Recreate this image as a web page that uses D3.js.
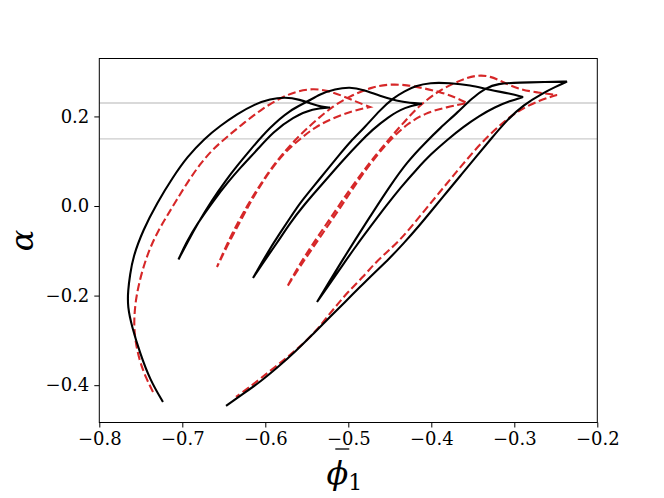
<!DOCTYPE html>
<html>
<head>
<meta charset="utf-8">
<script src="https://cdn.jsdelivr.net/npm/d3@7"></script>
<style>
  html, body { margin: 0; padding: 0; background: #fff; }
  svg { display: block; }
</style>
</head>
<body>
<svg id="chart" width="664" height="498"></svg>
<script>
// ---------------- data ----------------
const xTicks = [-0.8, -0.7, -0.6, -0.5, -0.4, -0.3, -0.2];
const yTicks = [-0.4, -0.2, 0.0, 0.2];
const refLevels = [0.23, 0.15];

// black solid trajectory (phi1bar, alpha)
const blackX = [
  -0.7233, -0.7389, -0.7510, -0.7606, -0.7660, -0.7654, -0.7630, -0.7594, -0.7473, -0.7305,
  -0.7112, -0.6943, -0.6727, -0.6546, -0.6341, -0.6124, -0.5943, -0.5763, -0.5582, -0.5437,
  -0.5317, -0.5220,
  -0.5425, -0.5666, -0.5907, -0.6100, -0.6305, -0.6449, -0.6618, -0.6823, -0.6955, -0.7046,
  -0.6943, -0.6811, -0.6642, -0.6473, -0.6341, -0.6184, -0.5943, -0.5702, -0.5498, -0.5341,
  -0.5160, -0.4980, -0.4823, -0.4618, -0.4413, -0.4257, -0.4112,
  -0.4317, -0.4522, -0.4714, -0.4859, -0.5040, -0.5220, -0.5377, -0.5534, -0.5702, -0.5859,
  -0.6004, -0.6148,
  -0.5992, -0.5823, -0.5678, -0.5582, -0.5425, -0.5257, -0.5100, -0.4980, -0.4799, -0.4618,
  -0.4461, -0.4317, -0.4196, -0.4016, -0.3775, -0.3534, -0.3293, -0.3052, -0.2895,
  -0.3052, -0.3233, -0.3425, -0.3618, -0.3811, -0.4004, -0.4184, -0.4365, -0.4546, -0.4727,
  -0.4907, -0.5076, -0.5233, -0.5377,
  -0.5245, -0.5100, -0.4919, -0.4702, -0.4498, -0.4293, -0.4076, -0.3895, -0.3678, -0.3510,
  -0.3341, -0.3208, -0.2931, -0.2630, -0.2365,
  -0.2510, -0.2654, -0.2895, -0.3088, -0.3293, -0.3473, -0.3642, -0.3811, -0.3980, -0.4148,
  -0.4329, -0.4510, -0.4690, -0.4871, -0.5040, -0.5220, -0.5425, -0.5642, -0.5847, -0.6064,
  -0.6269, -0.6473
];
const blackY = [
  -0.4375, -0.3884, -0.3281, -0.2701, -0.2254, -0.1875, -0.1540, -0.1138, -0.0536, 0.0067,
  0.0647, 0.1094, 0.1518, 0.1786, 0.2054, 0.2277, 0.2388, 0.2433, 0.2377, 0.2277,
  0.2210, 0.2199,
  0.2176, 0.1987, 0.1652, 0.1250, 0.0848, 0.0536, 0.0134, -0.0402, -0.0826, -0.1194,
  -0.0826, -0.0379, 0.0134, 0.0580, 0.0893, 0.1250, 0.1763, 0.2143, 0.2321, 0.2500,
  0.2612, 0.2656, 0.2600, 0.2455, 0.2344, 0.2299, 0.2288,
  0.2210, 0.1987, 0.1696, 0.1429, 0.1071, 0.0692, 0.0357, 0.0022, -0.0379, -0.0826,
  -0.1205, -0.1607,
  -0.1094, -0.0603, -0.0201, 0.0067, 0.0424, 0.0804, 0.1161, 0.1429, 0.1763, 0.2143,
  0.2411, 0.2567, 0.2679, 0.2757, 0.2746, 0.2701, 0.2589, 0.2511, 0.2433,
  0.2344, 0.2210, 0.2009, 0.1763, 0.1473, 0.1161, 0.0804, 0.0424, 0.0000, -0.0446,
  -0.0893, -0.1339, -0.1763, -0.2143,
  -0.1741, -0.1295, -0.0759, -0.0134, 0.0446, 0.0982, 0.1406, 0.1741, 0.2098, 0.2411,
  0.2634, 0.2734, 0.2757, 0.2768, 0.2779,
  0.2656, 0.2522, 0.2254, 0.1920, 0.1473, 0.1071, 0.0692, 0.0313, -0.0067, -0.0446,
  -0.0826, -0.1183, -0.1496, -0.1830, -0.2143, -0.2478, -0.2857, -0.3259, -0.3594, -0.3929,
  -0.4196, -0.4464
];
// indices where the black trajectory reverses (tips and turning points)
const blackTurns = [21, 31, 48, 60, 79, 93, 108];

// red dashed trajectory (phi1bar, alpha)
const redX = [
  -0.7353, -0.7437, -0.7510, -0.7558, -0.7582, -0.7576, -0.7552, -0.7492, -0.7401, -0.7293,
  -0.7184, -0.7076, -0.6943, -0.6787, -0.6630, -0.6449, -0.6245, -0.6040, -0.5823, -0.5618,
  -0.5425, -0.5245, -0.5064, -0.4895, -0.4739,
  -0.4955, -0.5184, -0.5401, -0.5582, -0.5763, -0.5919, -0.6064, -0.6184, -0.6305, -0.6449,
  -0.6582,
  -0.6473, -0.6353, -0.6220, -0.6088, -0.5943, -0.5775, -0.5594, -0.5401, -0.5184, -0.4955,
  -0.4714, -0.4498, -0.4293, -0.4100, -0.3895, -0.3714, -0.3570,
  -0.3811, -0.4076, -0.4293, -0.4473, -0.4654, -0.4835, -0.4980, -0.5124, -0.5281, -0.5437,
  -0.5594, -0.5739,
  -0.5606, -0.5461, -0.5305, -0.5148, -0.5004, -0.4847, -0.4678, -0.4498, -0.4317, -0.4136,
  -0.3931, -0.3751, -0.3582, -0.3437, -0.3293, -0.3136, -0.2955, -0.2727, -0.2486,
  -0.2690, -0.2967, -0.3172, -0.3377, -0.3558, -0.3739, -0.3907, -0.4076, -0.4233, -0.4389,
  -0.4534, -0.4678, -0.4823, -0.5016, -0.5136, -0.5257, -0.5377, -0.5534, -0.5702, -0.5883,
  -0.6064, -0.6220, -0.6353
];
const redY = [
  -0.4152, -0.3839, -0.3482, -0.3103, -0.2723, -0.2366, -0.1987, -0.1496, -0.0982, -0.0558,
  -0.0223, 0.0112, 0.0513, 0.0938, 0.1272, 0.1563, 0.1875, 0.2165, 0.2411, 0.2567,
  0.2623, 0.2578, 0.2455, 0.2321, 0.2210,
  0.2121, 0.1964, 0.1763, 0.1496, 0.1205, 0.0848, 0.0446, 0.0067, -0.0357, -0.0848,
  -0.1362,
  -0.0893, -0.0446, 0.0000, 0.0402, 0.0804, 0.1205, 0.1563, 0.1897, 0.2232, 0.2478,
  0.2656, 0.2723, 0.2701, 0.2634, 0.2545, 0.2433, 0.2299,
  0.2210, 0.2076, 0.1830, 0.1518, 0.1138, 0.0692, 0.0290, -0.0112, -0.0536, -0.0960,
  -0.1384, -0.1808,
  -0.1362, -0.0938, -0.0513, -0.0089, 0.0313, 0.0714, 0.1116, 0.1518, 0.1897, 0.2254,
  0.2545, 0.2723, 0.2857, 0.2924, 0.2902, 0.2768, 0.2612, 0.2533, 0.2478,
  0.2366, 0.2121, 0.1808, 0.1451, 0.1071, 0.0670, 0.0290, -0.0089, -0.0446, -0.0781,
  -0.1027, -0.1272, -0.1585, -0.1942, -0.2210, -0.2478, -0.2768, -0.3058, -0.3326, -0.3594,
  -0.3862, -0.4085, -0.4263
];
const redTurns = [24, 35, 52, 64, 83];

// ---------------- layout ----------------
const plot = { left: 99.3, right: 597.3, top: 58.5, bottom: 422.5 };
const svg = d3.select("#chart");
const fmt = d => (d < 0 ? "\u2212" : "") + Math.abs(d).toFixed(1);

const x = d3.scaleLinear().domain([-0.8, -0.2]).range([plot.left, plot.right]);
const allY = blackY.concat(redY);
const yMin = d3.min(allY), yMax = d3.max(allY), pad = 0.05 * (yMax - yMin);
const y = d3.scaleLinear().domain([yMin - pad, yMax + pad]).range([plot.bottom, plot.top]);

svg.append("clipPath").attr("id", "clip")
  .append("rect").attr("x", plot.left).attr("y", plot.top)
  .attr("width", plot.right - plot.left).attr("height", plot.bottom - plot.top);

const g = svg.append("g").attr("clip-path", "url(#clip)");

// reference lines
g.selectAll("line.ref").data(refLevels).enter().append("line")
  .attr("class", "ref")
  .attr("x1", plot.left).attr("x2", plot.right)
  .attr("y1", d => y(d)).attr("y2", d => y(d))
  .attr("stroke", "#cccccc").attr("stroke-width", 1.4);

// smooth each branch between reversals, joined into one continuous path
const line = d3.line().x(d => x(d[0])).y(d => y(d[1])).curve(d3.curveBasis);
function trajectory(xs, ys, turns) {
  const pts = xs.map((v, i) => [v, ys[i]]);
  const cuts = [0, ...turns, pts.length - 1];
  let d = "";
  for (let k = 0; k < cuts.length - 1; k++) {
    const seg = line(pts.slice(cuts[k], cuts[k + 1] + 1));
    d += k === 0 ? seg : "L" + seg.slice(1);
  }
  return d;
}

g.append("path")
  .attr("d", trajectory(redX, redY, redTurns)).attr("fill", "none")
  .attr("stroke", "#d62728").attr("stroke-width", 2.1)
  .attr("stroke-dasharray", "8,3.6");

g.append("path")
  .attr("d", trajectory(blackX, blackY, blackTurns)).attr("fill", "none")
  .attr("stroke", "#000").attr("stroke-width", 2.1)
  .attr("stroke-linejoin", "miter").attr("stroke-miterlimit", 3);

// axes
const xAxis = d3.axisBottom(x).tickValues(xTicks).tickSize(5).tickPadding(5).tickFormat(fmt);
const yAxis = d3.axisLeft(y).tickValues(yTicks).tickSize(5).tickPadding(5).tickFormat(fmt);

const gx = svg.append("g").attr("transform", `translate(0,${plot.bottom})`).call(xAxis);
const gy = svg.append("g").attr("transform", `translate(${plot.left},0)`).call(yAxis);
[gx, gy].forEach(a => {
  a.select(".domain").remove();
  a.selectAll(".tick line").attr("stroke", "#000").attr("stroke-width", 1);
  a.selectAll(".tick text").attr("fill", "#000")
    .style("font-family", "'DejaVu Serif', serif").style("font-size", "18px");
});

// frame
svg.append("rect")
  .attr("x", plot.left).attr("y", plot.top)
  .attr("width", plot.right - plot.left).attr("height", plot.bottom - plot.top)
  .attr("fill", "none").attr("stroke", "#000").attr("stroke-width", 1);

// axis labels
const cx = (plot.left + plot.right) / 2;
const xl = svg.append("text")
  .attr("x", cx - 4).attr("y", 484)
  .attr("text-anchor", "middle")
  .style("font-family", "'DejaVu Serif', serif").style("font-size", "32px").style("font-style", "italic");
xl.append("tspan").text("\u03D5");
xl.append("tspan").attr("dy", 6).style("font-size", "22px").style("font-style", "normal").text("1");
svg.append("line")
  .attr("x1", cx - 13).attr("x2", cx + 1)
  .attr("y1", 449).attr("y2", 449)
  .attr("stroke", "#000").attr("stroke-width", 1.3);

svg.append("text")
  .attr("transform", `translate(33,${(plot.top + plot.bottom) / 2}) rotate(-90)`)
  .attr("text-anchor", "middle")
  .style("font-family", "'DejaVu Serif', serif").style("font-size", "32px").style("font-style", "italic")
  .text("\u03B1");
</script>
</body>
</html>
